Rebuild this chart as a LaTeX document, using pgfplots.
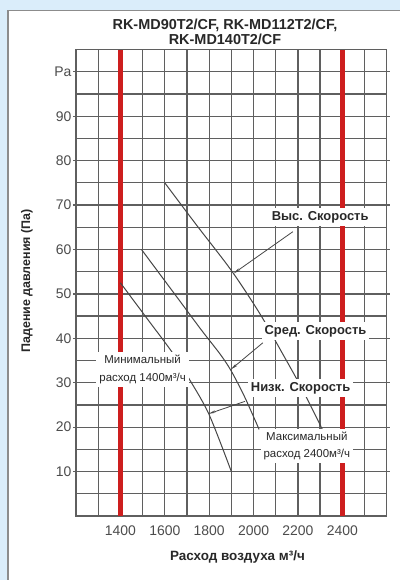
\documentclass[border=0pt]{standalone}
\usepackage{fontspec}
\setmainfont{Liberation Sans}
\usepackage{pgfplots}
\pgfplotsset{compat=1.18}
\usetikzlibrary{arrows.meta}
\definecolor{bgblue}{RGB}{218,237,250}
\definecolor{gridc}{RGB}{95,95,95}
\definecolor{curvec}{RGB}{70,70,70}
\definecolor{redl}{RGB}{205,30,30}
\definecolor{txt}{RGB}{40,40,40}
\begin{document}
\begin{tikzpicture}[x=1bp,y=1bp]
\useasboundingbox (0,0) rectangle (400,580);
\fill[bgblue] (0,0) rectangle (400,580);
\fill[white] (7,0) rectangle (400,570);
\draw[black!45, line width=1.5bp] (7.75,0) -- (7.75,569.25) -- (400,569.25);
\node[text=txt, font=\bfseries\fontsize{14.5}{15}\selectfont, align=center] at (225,548.5) {RK-MD90T2/CF, RK-MD112T2/CF,\\RK-MD140T2/CF};
\node[text=txt, font=\bfseries\fontsize{12.5}{14}\selectfont, rotate=90] at (27,299) {Падение давления (Па)};
\node[text=txt, font=\bfseries\fontsize{13.5}{15}\selectfont] at (237.5,23.3) {Расход воздуха м³/ч};
\begin{axis}[
  at={(76bp,64bp)}, anchor=south west,
  scale only axis, width=310.7bp, height=466.4bp,
  xmin=1200, xmax=2600, ymin=0, ymax=105,
  xtick={1400,1600,1800,2000,2200,2400},
  xticklabels={1400,1600,1800,2000,2200,2400},
  minor xtick={1300,1500,1700,1900,2100,2300,2500},
  ytick={10,20,30,40,50,60,70,80,90,100},
  yticklabels={10,20,30,40,50,60,70,80,90,Pa},
  minor ytick={5,15,25,35,45,55,65,75,85,95},
  grid=both,
  grid style={gridc, line width=1.3bp},
  minor grid style={gridc, line width=1.3bp},
  major grid style={gridc, line width=1.3bp},
  axis line style={gridc, line width=1.4bp},
  tick align=outside,
  major tick length=3bp, minor tick length=0pt,
  xtick style={draw=none},
  ytick style={gridc, line width=1.3bp},
  minor tick style={draw=none},
  ticklabel style={text=black!70, font=\fontsize{14}{15}\selectfont},
  xticklabel style={anchor=base, yshift=-17bp},
  yticklabel style={anchor=east, inner sep=0pt, xshift=-1.3bp},
  /pgf/number format/assume math mode=true,
]
\addplot[redl, line width=4.6bp] coordinates {(1400,0) (1400,105)};
\addplot[redl, line width=4.6bp] coordinates {(2400,0) (2400,105)};

% high speed
\addplot[curvec, line width=1bp, smooth] coordinates {
 (1600,75) (1743,65.5) (1901,55.2) (2029,45.5) (2120,37.5) (2220,28.5) (2310,19.5)};
% medium speed
\addplot[curvec, line width=1bp, smooth] coordinates {
 (1495,60) (1650,49.6) (1766,41.8) (1850,36.4) (1900,32.6) (1960,26.8) (2025,19.5)};
% low speed
\addplot[curvec, line width=1bp, smooth] coordinates {
 (1400,52.5) (1518,44.6) (1637,36.6) (1713,30.6) (1800,22.8) (1900,10)};

% arrows
\draw[curvec, line width=0.8bp, -{Stealth[length=7bp,width=2.6bp]}] (axis cs:2177,64) -- (axis cs:1910,54.6);
\draw[curvec, line width=0.8bp, -{Stealth[length=7bp,width=2.6bp]}] (axis cs:2042,39) -- (axis cs:1898,33.0);
\draw[curvec, line width=0.8bp, -{Stealth[length=7bp,width=2.6bp]}] (axis cs:1961,25.8) -- (axis cs:1797,23.0);

% labels
\node[fill=white, inner sep=3bp, text=txt, font=\bfseries\fontsize{13}{14}\selectfont] at (axis cs:2300,67.3) {Выс. Скорость};
\node[fill=white, inner sep=3bp, text=txt, font=\bfseries\fontsize{13}{14}\selectfont] at (axis cs:2279,41.6) {Сред. Скорость};
\node[fill=white, inner sep=3bp, text=txt, font=\bfseries\fontsize{13}{14}\selectfont] at (axis cs:2212,28.8) {Низк. Скорость};
\node[fill=white, inner sep=3bp, text=txt, align=center, font=\fontsize{11.5}{18}\selectfont] at (axis cs:1500,33.0) {Минимальный\\расход 1400м³/ч};
\node[fill=white, inner sep=3bp, text=txt, align=center, font=\fontsize{11.5}{17}\selectfont] at (axis cs:2240,15.8) {Максимальный\\расход 2400м³/ч};
\end{axis}
\end{tikzpicture}
\end{document}
